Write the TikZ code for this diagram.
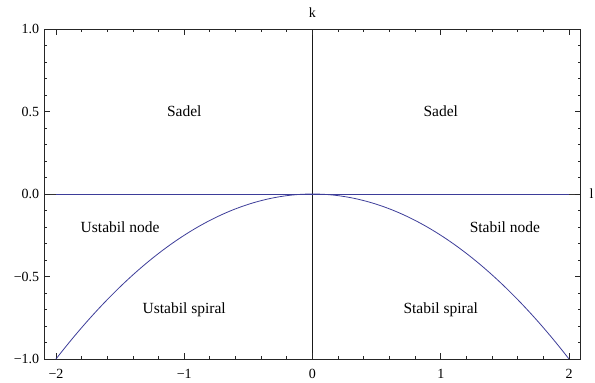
\documentclass[tikz,border=0pt]{standalone}
\usepackage{fontspec}
\setmainfont{Liberation Serif}
\usepackage{tikz}
\definecolor{plotcol}{rgb}{0.24,0.24,0.6}
\tikzset{
  region/.style={font=\fontsize{15.5}{17}\selectfont, inner sep=0pt},
  ticklbl/.style={font=\fontsize{14}{16}\selectfont, inner sep=0pt},
  frameline/.style={line width=0.8pt, black!85},
}

\begin{document}
\begin{tikzpicture}[x=128.25pt, y=165pt]
    \useasboundingbox (-2.4366,-1.1394) rectangle (2.2027,1.1758);

    % ── Frame ────────────────────────────────────────────────────────────────
    \draw[frameline] (-2.09,-1) rectangle (2.09,1);

    % ── Axes (l horizontal, k vertical) ──────────────────────────────────────
    \draw[line width=0.8pt, black!80] (-2.09,0) -- (2.09,0);
    \draw[line width=0.8pt, black!90] (0,-1) -- (0,1);

    % ── Frame ticks: y every 0.1, x every 0.2 ────────────────────────────────
    \foreach \i in {-10,...,10}{
        \pgfmathsetmacro\len{ifthenelse(mod(\i,5)==0,6,3)}
        \draw[frameline] (-2.09,\i/10) -- ++(\len pt,0);
        \draw[frameline] (2.09,\i/10) -- ++(-\len pt,0);
        \draw[frameline] (\i/5,-1) -- ++(0,\len pt);
        \draw[frameline] (\i/5,1) -- ++(0,-\len pt);
    }

    % ── Tick labels ──────────────────────────────────────────────────────────
    \foreach \v/\t [count=\n] in {-1/−1.0, -0.5/−0.5, 0/0.0, 0.5/0.5, 1/1.0}
        \node[ticklbl, anchor=east] (ytick\n) at ([xshift=-5pt]-2.09,\v) {\t};
    \foreach \v/\t [count=\n] in {-2/−2, -1/−1, 0/0, 1/1, 2/2}
        \node[ticklbl, anchor=north] (xtick\n) at ([yshift=-10pt]\v,-1) {\t};

    % ── Axis names ───────────────────────────────────────────────────────────
    \node[ticklbl] (klbl) at (0,1.097) {k};
    \node[ticklbl, anchor=west] (llbl) at (2.16,0) {l};

    % ── Curves: k = 0 and k = -l^2/4 ─────────────────────────────────────────
    \draw[plotcol, line width=0.8pt] (-2,0) -- (2,0);
    \draw[plotcol, line width=0.8pt]
        plot[domain=-2:2, samples=120, smooth] (\x, {-\x*\x/4});

    % ── Regions ──────────────────────────────────────────────────────────────
    \node[region] (sadelL) at (-1,0.5) {Sadel};
    \node[region] (sadelR) at (1,0.5) {Sadel};
    \node[region] (unode) at (-1.5,-0.2) {Ustabil node};
    \node[region] (snode) at (1.5,-0.2) {Stabil node};
    \node[region] (uspiral) at (-1,-0.7) {Ustabil spiral};
    \node[region] (sspiral) at (1,-0.7) {Stabil spiral};

\end{tikzpicture}
\end{document}
